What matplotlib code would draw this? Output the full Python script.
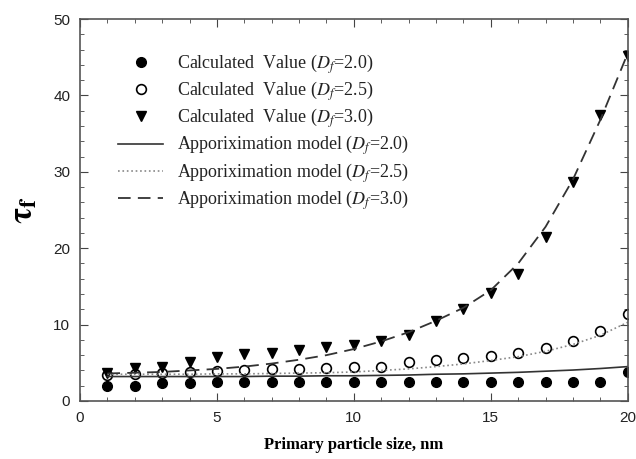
import matplotlib
matplotlib.use("Agg")
import matplotlib.pyplot as plt
from matplotlib.ticker import MultipleLocator

plt.rcParams['mathtext.fontset'] = 'stix'

# primary particle size, nm
size = list(range(1, 21))

# calculated values
calc_20 = [1.9, 1.9, 2.3, 2.4, 2.5, 2.5, 2.5, 2.5, 2.5, 2.5,
           2.5, 2.5, 2.5, 2.5, 2.5, 2.5, 2.5, 2.5, 2.5, 3.8]
calc_25 = [3.4, 3.5, 3.6, 3.75, 3.9, 4.1, 4.2, 4.2, 4.35, 4.4,
           4.5, 5.1, 5.3, 5.6, 5.9, 6.3, 6.9, 7.85, 9.2, 11.4]
calc_30 = [3.7, 4.35, 4.4, 5.1, 5.7, 6.15, 6.3, 6.7, 7.1, 7.3,
           7.9, 8.65, 10.5, 12.0, 14.2, 16.6, 21.5, 28.6, 37.4, 45.2]

# approximation model
model_20 = [3.2, 3.2, 3.2, 3.2, 3.2, 3.2, 3.25, 3.25, 3.3, 3.3,
            3.35, 3.4, 3.5, 3.55, 3.65, 3.75, 3.9, 4.05, 4.25, 4.5]
model_25 = [3.5, 3.5, 3.5, 3.5, 3.55, 3.55, 3.6, 3.65, 3.7, 3.8,
            4.0, 4.2, 4.5, 4.85, 5.3, 5.8, 6.5, 7.4, 8.6, 10.3]
model_30 = [3.6, 3.7, 3.8, 4.0, 4.2, 4.5, 4.9, 5.4, 6.0, 6.8,
            7.8, 9.0, 10.5, 12.2, 14.5, 18.0, 22.8, 29.0, 36.8, 45.5]

fig = plt.figure(figsize=(6.36, 4.59), dpi=100)
ax = fig.add_axes([0.1258, 0.1264, 0.8612, 0.8322])

ax.plot(size, calc_20, 'o', color='black', markersize=7, label='Calculated  Value ($D_f$=2.0)')
ax.plot(size, calc_25, 'o', color='black', markerfacecolor='white', markersize=7,
        markeredgewidth=1.2, label='Calculated  Value ($D_f$=2.5)')
ax.plot(size, calc_30, 'v', color='black', markersize=7.5, label='Calculated  Value ($D_f$=3.0)')
ax.plot(size, model_20, '-', color='#333333', linewidth=1.2, label='Apporiximation model ($D_f$=2.0)')
ax.plot(size, model_25, ':', color='#888888', linewidth=1.2, label='Apporiximation model ($D_f$=2.5)')
ax.plot(size, model_30, '--', color='#333333', linewidth=1.3, dashes=(7, 4),
        label='Apporiximation model ($D_f$=3.0)')

ax.set_xlim(0, 20)
ax.set_ylim(0, 50)
ax.xaxis.set_major_locator(MultipleLocator(5))
ax.xaxis.set_minor_locator(MultipleLocator(1))
ax.yaxis.set_major_locator(MultipleLocator(10))
ax.yaxis.set_minor_locator(MultipleLocator(2))
ax.tick_params(which='both', direction='in', top=True, right=True, color='#444444')
ax.tick_params(which='major', length=6, labelsize=11, pad=7)
ax.tick_params(which='minor', length=3)
for lab in ax.get_xticklabels() + ax.get_yticklabels():
    lab.set_family('Liberation Sans')
    lab.set_color('#222222')
for sp in ax.spines.values():
    sp.set_color('#555555')
    sp.set_linewidth(1.2)

ax.set_xlabel('Primary particle size, nm', family='Liberation Serif',
              fontweight='bold', fontsize=12, labelpad=9)
ax.set_ylabel(r'$\mathbf{\tau}_\mathbf{f}$', fontsize=24, labelpad=10)

leg = ax.legend(loc='upper left', bbox_to_anchor=(0.04, 0.956), frameon=False,
                prop={'family': 'Liberation Serif', 'size': 13},
                handlelength=2.5, handletextpad=0.75, labelspacing=0.2)
for t in leg.get_texts():
    t.set_color('#222222')

plt.savefig('out.png', dpi=100)
